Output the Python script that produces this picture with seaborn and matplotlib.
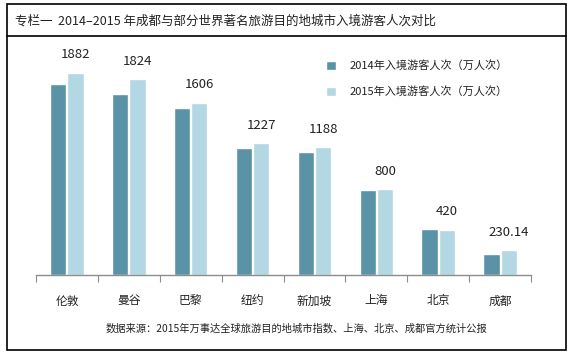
import pandas as pd
import matplotlib.pyplot as plt
import seaborn as sns
from matplotlib.patches import Rectangle
from matplotlib.lines import Line2D

# === Data ===
cities = ['伦敦', '曼谷', '巴黎', '纽约', '新加坡', '上海', '北京', '成都']
visitors_2014 = [1776, 1684, 1553, 1180, 1148, 793, 428, 191]
visitors_2015 = [1882, 1824, 1606, 1227, 1188, 800, 420, 230.14]
value_labels = ['1882', '1824', '1606', '1227', '1188', '800', '420', '230.14']
series_names = ['2014年入境游客人次（万人次）', '2015年入境游客人次（万人次）']

df = pd.DataFrame({
    'city': cities * 2,
    'value': visitors_2014 + visitors_2015,
    'series': [series_names[0]] * len(cities) + [series_names[1]] * len(cities),
})

# === Plot ===
sns.set_theme(style="white")
plt.rcParams['font.family'] = ['Noto Sans CJK SC', 'DejaVu Sans']

fig = plt.figure(figsize=(5.75, 3.53), dpi=100)
ax = fig.add_axes([36 / 575, 1 - 275 / 353, 495 / 575, 233 / 353])

sns.barplot(
    data=df, x='city', y='value', hue='series',
    palette=['#5a93a7', '#b3d7e3'], width=0.56, gap=0.06,
    saturation=1, ax=ax, legend=True
)

ax.set_ylim(0, 2170)
ax.set_xlim(-0.5, len(cities) - 0.5)
ax.set_xlabel('')
ax.set_ylabel('')
ax.set_yticks([])
for s in ['top', 'right', 'left']:
    ax.spines[s].set_visible(False)
ax.spines['bottom'].set_color('#8c8c8c')
ax.spines['bottom'].set_linewidth(1.0)

# ticks between categories
ax.set_xticks([i - 0.5 for i in range(len(cities) + 1)], minor=True)
ax.tick_params(axis='x', which='minor', direction='out', length=5,
               color='#8c8c8c', width=0.8, bottom=True)
ax.tick_params(axis='x', which='major', length=0, pad=14,
               labelsize=8.5, labelcolor='#222222')

# value labels above 2015 bars
for i, (v, lab) in enumerate(zip(visitors_2015, value_labels)):
    ax.annotate(lab, xy=(i + 0.14, v), xytext=(0, 13), textcoords='offset points',
                ha='center', va='center', fontsize=9.5, color='#222222')

ax.legend(title=None, frameon=False, loc='upper left',
          bbox_to_anchor=(280 / 495, 0.965), fontsize=8,
          handlelength=0.9, handleheight=0.9, handletextpad=1.2,
          labelspacing=1.35, labelcolor='#222222')

# title and source
fig.text(15 / 575, 1 - 21 / 353, '专栏一  2014–2015 年成都与部分世界著名旅游目的地城市入境游客人次对比',
         ha='left', va='center', fontsize=9, color='#222222')
fig.text(296 / 575, 1 - 329 / 353,
         '数据来源：2015年万事达全球旅游目的地城市指数、上海、北京、成都官方统计公报',
         ha='center', va='center', fontsize=7.4, color='#222222')

# frame
x0, x1 = 7 / 575, 566 / 575
y0, y1 = 1 - 350 / 353, 1 - 4 / 353
fig.patches.append(Rectangle((x0, y0), x1 - x0, y1 - y0, transform=fig.transFigure,
                             fill=False, edgecolor='black', linewidth=1.2))
fig.lines.append(Line2D([x0, x1], [1 - 36 / 353] * 2, transform=fig.transFigure,
                        color='black', linewidth=1.2))

fig.savefig('out.png', dpi=100)
